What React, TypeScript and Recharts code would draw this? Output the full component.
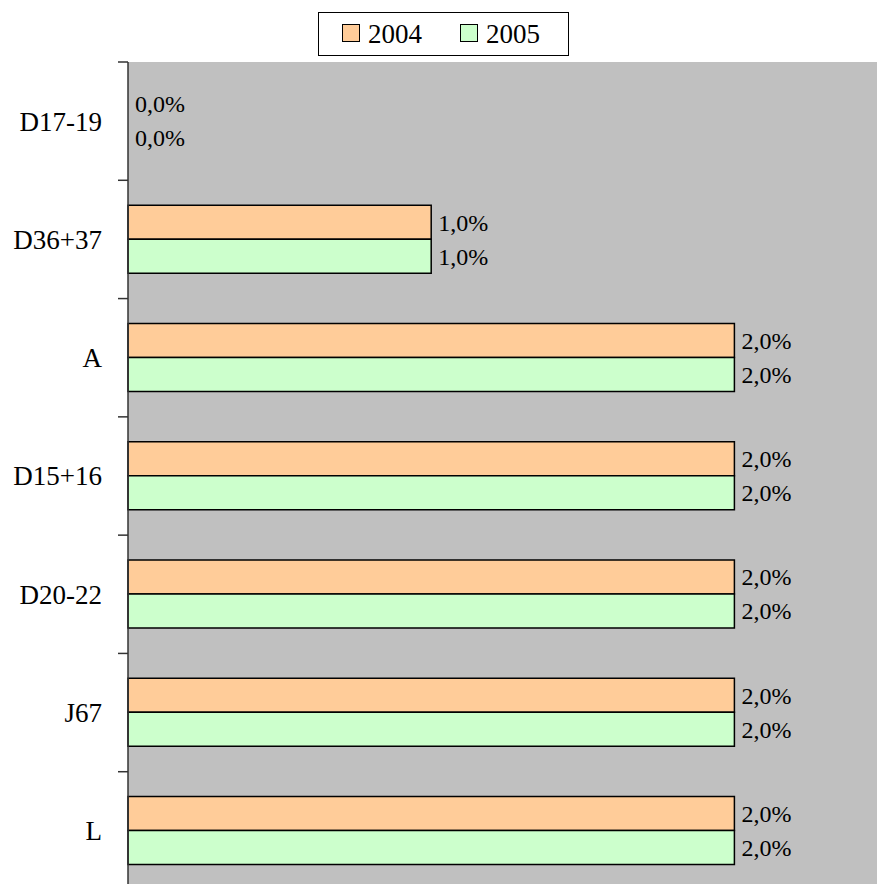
import React from "react";
import { BarChart, Bar, XAxis, YAxis, CartesianGrid, LabelList, Rectangle } from "recharts";

const categories = ["D17-19", "D36+37", "A", "D15+16", "D20-22", "J67", "L"];
const values2004 = [0, 1, 2, 2, 2, 2, 2];
const values2005 = [0, 1, 2, 2, 2, 2, 2];
const seriesNames = ["2004", "2005"];
const xMax = 2.5;

const data = categories.map((c, i) => ({ name: c, y2004: values2004[i], y2005: values2005[i] }));

const FONT = "Liberation Serif";
const CHART_W = 890;
const CHART_H = 900;
const M_TOP = 62;
const M_BOTTOM = 10;
const AXIS_W = 128;
const BAND = (CHART_H - M_TOP - M_BOTTOM) / categories.length;

const fmt = (v: any) => Number(v).toFixed(1).replace(".", ",") + "%";

const ValueLabel = (props: any) => {
  const { x, y, width, height, value } = props;
  const w = Number(value) === 0 ? 0 : Number(width);
  return (
    <text
      x={Number(x) + w + 7}
      y={Number(y) + Number(height) / 2}
      dy="0.35em"
      textAnchor="start"
      fontFamily={FONT}
      fontSize={24}
      fill="#000"
    >
      {fmt(value)}
    </text>
  );
};

const makeShape = (key: string) => (props: any) => {
  if (!props.payload || Number(props.payload[key]) === 0) return <g />;
  return <Rectangle {...props} />;
};

const YTick = (props: any) => {
  const { y, payload, index } = props;
  return (
    <g>
      <line x1={AXIS_W - 10} x2={AXIS_W} y1={y - BAND / 2} y2={y - BAND / 2} stroke="#333" strokeWidth={1.5} />
      {index === categories.length - 1 && (
        <line x1={AXIS_W - 10} x2={AXIS_W} y1={y + BAND / 2} y2={y + BAND / 2} stroke="#333" strokeWidth={1.5} />
      )}
      <text x={AXIS_W - 26} y={y} dy="0.35em" textAnchor="end" fontFamily={FONT} fontSize={27} fill="#000">
        {payload.value}
      </text>
    </g>
  );
};

const Swatch = ({ color }: { color: string }) => (
  <span
    style={{
      display: "inline-block",
      width: 16,
      height: 16,
      background: color,
      border: "1.5px solid #000",
      marginRight: 8,
      position: "relative",
      top: -1,
    }}
  />
);

export default function App() {
  return (
    <div style={{ position: "absolute", left: 0, top: 0, width: 877, height: 884, overflow: "hidden", background: "#fff" }}>
      <BarChart
        width={CHART_W}
        height={CHART_H}
        data={data}
        layout="vertical"
        margin={{ top: M_TOP, right: 4, bottom: M_BOTTOM, left: 0 }}
        barGap={0}
        barCategoryGap="21%"
      >
        <CartesianGrid fill="#C0C0C0" horizontal={false} vertical={false} />
        <XAxis type="number" domain={[0, xMax]} hide />
        <YAxis
          type="category"
          dataKey="name"
          width={AXIS_W}
          axisLine={{ stroke: "#333", strokeWidth: 1.5 }}
          tickLine={false}
          tick={<YTick />}
          interval={0}
        />
        <Bar
          dataKey="y2004"
          name={seriesNames[0]}
          fill="#FFCC99"
          stroke="#000"
          strokeWidth={1.5}
          minPointSize={1}
          shape={makeShape("y2004")}
          isAnimationActive={false}
        >
          <LabelList dataKey="y2004" content={<ValueLabel />} />
        </Bar>
        <Bar
          dataKey="y2005"
          name={seriesNames[1]}
          fill="#CCFFCC"
          stroke="#000"
          strokeWidth={1.5}
          minPointSize={1}
          shape={makeShape("y2005")}
          isAnimationActive={false}
        >
          <LabelList dataKey="y2005" content={<ValueLabel />} />
        </Bar>
      </BarChart>
      <div
        style={{
          position: "absolute",
          left: 318,
          top: 12,
          width: 251,
          height: 44,
          boxSizing: "border-box",
          border: "1px solid #000",
          background: "#fff",
          fontFamily: FONT,
          fontSize: 27,
          lineHeight: "42px",
          display: "flex",
          alignItems: "center",
          paddingLeft: 23,
        }}
      >
        <span style={{ display: "inline-flex", alignItems: "center", marginRight: 38 }}>
          <Swatch color="#FFCC99" />
          {seriesNames[0]}
        </span>
        <span style={{ display: "inline-flex", alignItems: "center" }}>
          <Swatch color="#CCFFCC" />
          {seriesNames[1]}
        </span>
      </div>
    </div>
  );
}
